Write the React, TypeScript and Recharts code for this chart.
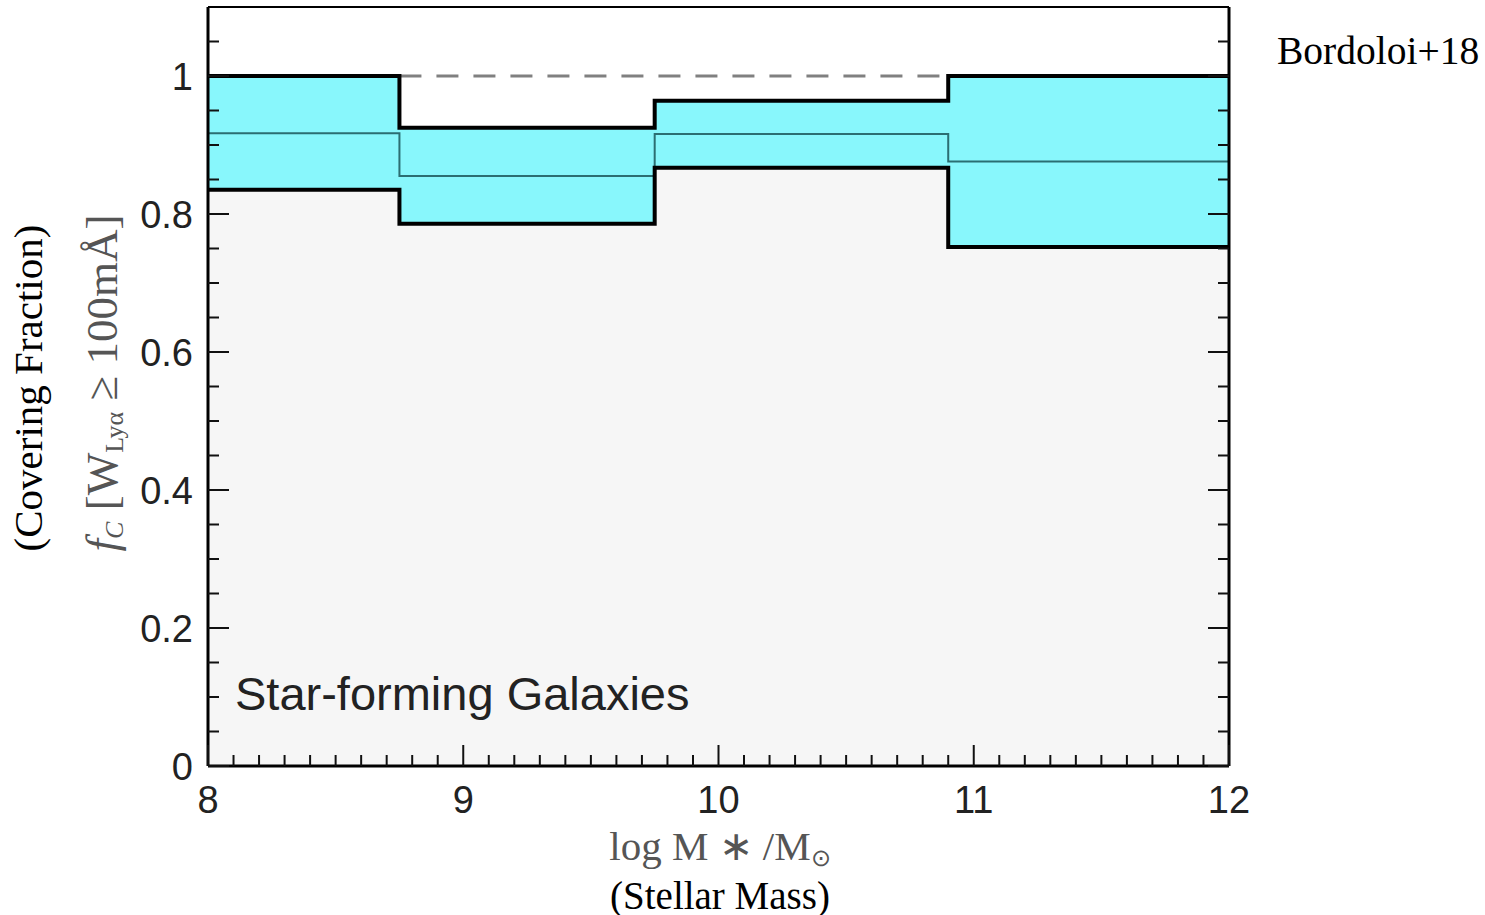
import { ComposedChart, Area, Line, XAxis, YAxis, ReferenceArea, ReferenceLine } from 'recharts';

// bin edges in log M*/Msun and per-bin covering fractions
const binEdges = [8, 8.75, 9.75, 10.9, 12];
const upperBound = [1.0, 0.925, 0.964, 1.0];
const lowerBound = [0.835, 0.786, 0.867, 0.752];
const medianFc = [0.917, 0.855, 0.916, 0.876];

const xMajorTicks = [8, 9, 10, 11, 12];
const yMajorTicks = [0, 0.2, 0.4, 0.6, 0.8, 1];
const yTickLabels = ['0', '0.2', '0.4', '0.6', '0.8', '1'];

const Y_MAX = 1.1;

// minor tick positions (0.1 in x, 0.05 in y)
const xTicks = Array.from({ length: 41 }, (_, i) => Math.round((8 + i * 0.1) * 10) / 10);
const yTicks = Array.from({ length: 22 }, (_, i) => Math.round(i * 0.05 * 100) / 100);

const dashedLevel = 1.0;
const dashedFrom = 8.75;
const dashedTo = 10.9;

const last = upperBound.length - 1;
const data = binEdges.map((x, i) => {
  const k = Math.min(i, last);
  return {
    x,
    band: [lowerBound[k], upperBound[k]],
    above: [upperBound[k], Y_MAX],
    upper: upperBound[k],
    lower: lowerBound[k],
    median: medianFc[k],
  };
});

const SANS = '"Liberation Sans", Arial, sans-serif';
const SERIF = '"Liberation Serif", "Times New Roman", serif';

const isMajorX = (v: number) => xMajorTicks.some((m) => Math.abs(m - v) < 1e-6);
const isMajorY = (v: number) => yMajorTicks.some((m) => Math.abs(m - v) < 1e-6);

function BottomTick({ x, y, payload }: any) {
  const major = isMajorX(payload.value);
  return (
    <g>
      <line x1={x} x2={x} y1={y} y2={y - (major ? 21 : 11)} stroke="#111" strokeWidth={2} />
      {major && (
        <text x={x} y={y + 47} textAnchor="middle" fontSize={38} fontFamily={SANS} fill="#222">
          {payload.value}
        </text>
      )}
    </g>
  );
}

function TopTick({ x, y, payload }: any) {
  const major = isMajorX(payload.value);
  return <line x1={x} x2={x} y1={y} y2={y + (major ? 21 : 11)} stroke="#111" strokeWidth={2} />;
}

function LeftTick({ x, y, payload }: any) {
  const major = isMajorY(payload.value);
  const idx = yMajorTicks.findIndex((m) => Math.abs(m - payload.value) < 1e-6);
  return (
    <g>
      <line x1={x} x2={x + (major ? 21 : 11)} y1={y} y2={y} stroke="#111" strokeWidth={2} />
      {major && (
        <text x={x - 15} y={y + 14} textAnchor="end" fontSize={38} fontFamily={SANS} fill="#222">
          {yTickLabels[idx]}
        </text>
      )}
    </g>
  );
}

function RightTick({ x, y, payload }: any) {
  const major = isMajorY(payload.value);
  return <line x1={x} x2={x - (major ? 21 : 11)} y1={y} y2={y} stroke="#111" strokeWidth={2} />;
}

export default function App() {
  return (
    <div style={{ position: 'absolute', left: 0, top: 0, width: 1485, height: 915, background: '#fff' }}>
      <ComposedChart width={1485} height={915} data={data} margin={{ top: 6, right: 246, bottom: 109, left: 148 }}>
        <XAxis
          xAxisId="bottom"
          dataKey="x"
          type="number"
          domain={[8, 12]}
          ticks={xTicks}
          interval={0}
          height={40}
          tickSize={0}
          tickMargin={0}
          tickLine={false}
          tick={<BottomTick />}
          axisLine={{ stroke: '#000', strokeWidth: 3 }}
          allowDataOverflow
        />
        <XAxis
          xAxisId="top"
          orientation="top"
          type="number"
          domain={[8, 12]}
          ticks={xTicks}
          interval={0}
          height={1}
          tickSize={0}
          tickMargin={0}
          tickLine={false}
          tick={<TopTick />}
          axisLine={{ stroke: '#000', strokeWidth: 2 }}
          allowDataOverflow
        />
        <YAxis
          yAxisId="left"
          type="number"
          domain={[0, Y_MAX]}
          ticks={yTicks}
          interval={0}
          width={60}
          tickSize={0}
          tickMargin={0}
          tickLine={false}
          tick={<LeftTick />}
          axisLine={{ stroke: '#000', strokeWidth: 3 }}
          allowDataOverflow
        />
        <YAxis
          yAxisId="right"
          orientation="right"
          type="number"
          domain={[0, Y_MAX]}
          ticks={yTicks}
          interval={0}
          width={10}
          tickSize={0}
          tickMargin={0}
          tickLine={false}
          tick={<RightTick />}
          axisLine={{ stroke: '#000', strokeWidth: 3 }}
          allowDataOverflow
        />
        <ReferenceArea xAxisId="bottom" yAxisId="left" x1={8} x2={12} y1={0} y2={Y_MAX} fill="#f6f6f6" fillOpacity={1} stroke="none" />
        <Area
          xAxisId="bottom"
          yAxisId="left"
          type="stepAfter"
          dataKey="above"
          fill="#ffffff"
          fillOpacity={1}
          stroke="none"
          isAnimationActive={false}
          dot={false}
          activeDot={false}
        />
        <Area
          xAxisId="bottom"
          yAxisId="left"
          type="stepAfter"
          dataKey="band"
          fill="#88f7fc"
          fillOpacity={1}
          stroke="none"
          isAnimationActive={false}
          dot={false}
          activeDot={false}
        />
        <ReferenceLine
          xAxisId="bottom"
          yAxisId="left"
          segment={[{ x: dashedFrom, y: dashedLevel }, { x: dashedTo, y: dashedLevel }]}
          stroke="#808080"
          strokeWidth={3}
          strokeDasharray="22 15"
        />
        <Line xAxisId="bottom" yAxisId="left" type="stepAfter" dataKey="median" stroke="#2b6e72" strokeWidth={2} dot={false} activeDot={false} isAnimationActive={false} />
        <Line xAxisId="bottom" yAxisId="left" type="stepAfter" dataKey="upper" stroke="#000" strokeWidth={4} dot={false} activeDot={false} isAnimationActive={false} />
        <Line xAxisId="bottom" yAxisId="left" type="stepAfter" dataKey="lower" stroke="#000" strokeWidth={4} dot={false} activeDot={false} isAnimationActive={false} />
      </ComposedChart>

      <div style={{ position: 'absolute', left: 235, top: 670, fontFamily: SANS, fontSize: 47, color: '#222', whiteSpace: 'nowrap', lineHeight: 1 }}>
        Star-forming Galaxies
      </div>

      <div style={{ position: 'absolute', left: 1277, top: 32, fontFamily: SERIF, fontSize: 39.5, color: '#000', whiteSpace: 'nowrap', lineHeight: 1 }}>
        Bordoloi+18
      </div>

      <div style={{ position: 'absolute', left: 720, top: 848, transform: 'translate(-50%, -50%)', fontFamily: SERIF, fontSize: 41, color: '#555', whiteSpace: 'nowrap', lineHeight: 1 }}>
        log M ∗ /M<sub style={{ fontSize: 24, verticalAlign: -6 }}>⊙</sub>
      </div>

      <div style={{ position: 'absolute', left: 720, top: 895, transform: 'translate(-50%, -50%)', fontFamily: SERIF, fontSize: 39, color: '#000', whiteSpace: 'nowrap', lineHeight: 1 }}>
        (Stellar Mass)
      </div>

      <div style={{ position: 'absolute', left: 28, top: 388, transform: 'translate(-50%, -50%) rotate(-90deg)', fontFamily: SERIF, fontSize: 41, color: '#000', whiteSpace: 'nowrap', lineHeight: 1 }}>
        (Covering Fraction)
      </div>

      <div style={{ position: 'absolute', left: 104, top: 383, transform: 'translate(-50%, -50%) rotate(-90deg)', fontFamily: SERIF, fontSize: 45, color: '#555', whiteSpace: 'nowrap', lineHeight: 1 }}>
        <i>f</i>
        <sub style={{ fontSize: 26, verticalAlign: -6 }}>
          <i>C</i>
        </sub>{' '}
        [W<sub style={{ fontSize: 26, verticalAlign: -6 }}>Lyα</sub> ≥ 100mÅ]
      </div>
    </div>
  );
}
